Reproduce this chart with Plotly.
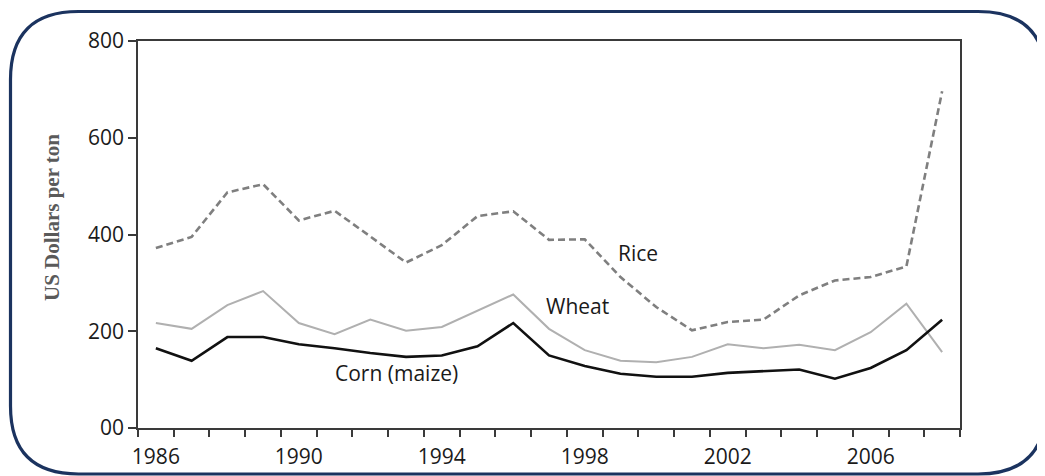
import plotly.graph_objects as go

years = list(range(1986, 2009))
rice = [372, 395, 487, 504, 429, 449, 396, 342, 378, 438, 448, 389, 390, 312, 250, 202, 219, 224, 274, 305, 312, 334, 696]
wheat = [217, 205, 254, 283, 217, 194, 224, 201, 209, 243, 276, 205, 161, 139, 136, 147, 173, 165, 172, 161, 198, 257, 157]
corn = [165, 139, 188, 188, 173, 165, 155, 147, 150, 169, 217, 150, 128, 112, 106, 106, 114, 117, 121, 102, 124, 161, 224]

ytick_vals = [0, 200, 400, 600, 800]
ytick_text = ["00", "200", "400", "600", "800"]
xtick_vals = [1986, 1990, 1994, 1998, 2002, 2006]
xtick_text = ["1986", "1990", "1994", "1998", "2002", "2006"]

label_names = ["Rice", "Wheat", "Corn (maize)"]
label_x = [1999.5, 1997.8, 1992.74]
label_y = [361, 252, 113]

# the page body has an 8px margin; figure is sized so it fills the window
OFF = 8
W, H = 1045 - OFF, 476 - OFF
L, R, T, B = 130, 85, 33, 48
pw, ph = W - L - R, H - T - B

fig = go.Figure()
fig.add_trace(go.Scatter(x=years, y=wheat, mode="lines", name="Wheat",
                         line=dict(color="#b0b0b0", width=2)))
fig.add_trace(go.Scatter(x=years, y=corn, mode="lines", name="Corn (maize)",
                         line=dict(color="#111111", width=2.6)))
fig.add_trace(go.Scatter(x=years, y=rice, mode="lines", name="Rice",
                         line=dict(color="#7f7f7f", width=2.6, dash="7px,4px")))

for name, lx, ly in zip(label_names, label_x, label_y):
    fig.add_annotation(x=lx, y=ly, xref="x", yref="y", text=name, showarrow=False,
                       font=dict(family="Open Sans", size=21, color="#1a1a1a"))

def px2paper(px, py):
    return (px - OFF - L) / pw, (H - B - (py - OFF)) / ph

# y-axis title placed as rotated annotation (slightly above axis centre, as in the original)
tx, ty = px2paper(52, 218)
fig.add_annotation(x=tx, y=ty, xref="paper", yref="paper", text="<b>US Dollars per ton</b>",
                   textangle=-90, showarrow=False, xanchor="center", yanchor="middle",
                   font=dict(family="Liberation Serif", size=21, color="#5a5a5a"))

# rounded border
x0, x1, y0, y1, r = 10.5, 1046, 11.5, 474, 68
def P(px, py):
    a, b = px2paper(px, py)
    return f"{a:.5f},{b:.5f}"
path = (f"M {P(x0 + r, y0)} L {P(x1 - r, y0)} Q {P(x1, y0)} {P(x1, y0 + r)} "
        f"L {P(x1, y1 - r)} Q {P(x1, y1)} {P(x1 - r, y1)} "
        f"L {P(x0 + r, y1)} Q {P(x0, y1)} {P(x0, y1 - r)} "
        f"L {P(x0, y0 + r)} Q {P(x0, y0)} {P(x0 + r, y0)} Z")
fig.add_shape(type="path", xref="paper", yref="paper", path=path,
              line=dict(color="#1b335f", width=3.2), layer="below")

fig.update_layout(
    width=W, height=H,
    margin=dict(l=L, r=R, t=T, b=B, autoexpand=False),
    paper_bgcolor="white", plot_bgcolor="white",
    showlegend=False,
    font=dict(family="Open Sans", size=21, color="#1a1a1a"),
)
fig.update_xaxes(
    range=[1985.5, 2008.5], tickvals=xtick_vals, ticktext=xtick_text,
    ticks="", showgrid=False, zeroline=False, automargin=False,
    showline=True, linecolor="#3a3a3a", linewidth=1.5, mirror=True,
    ticklabelstandoff=9,
    minor=dict(ticks="outside", ticklen=7, tickwidth=1.5, tickcolor="#3a3a3a",
               tick0=1985.5, dtick=1, showgrid=False),
)
fig.update_yaxes(
    range=[0, 800], tickvals=ytick_vals, ticktext=ytick_text,
    ticks="outside", ticklen=8, tickwidth=1.5, tickcolor="#3a3a3a",
    showgrid=False, zeroline=False, automargin=False,
    showline=True, linecolor="#3a3a3a", linewidth=1.5, mirror=True,
)

fig.write_html("out.html")
